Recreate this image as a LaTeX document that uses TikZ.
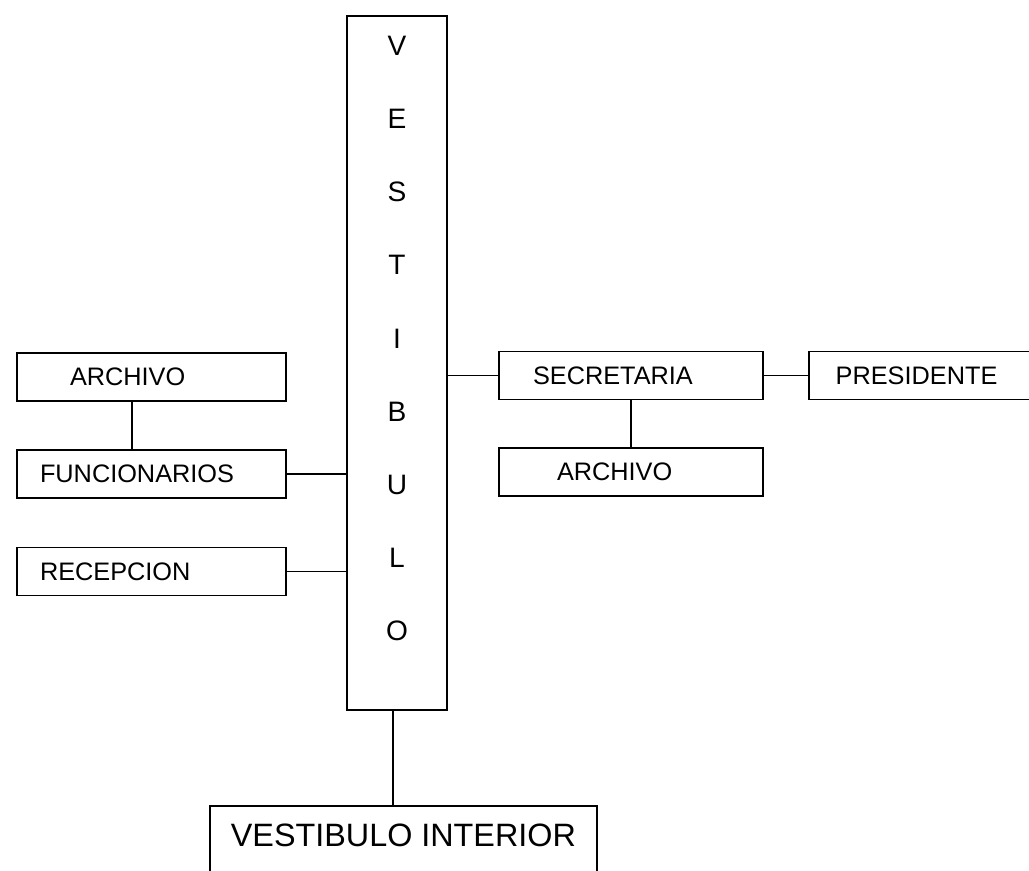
\documentclass[tikz,border=0pt]{standalone}
\usepackage{fontspec}
\setmainfont{Liberation Sans}
\usepackage{tikz}
\usetikzlibrary{positioning}

\begin{document}
\begin{tikzpicture}[
    room/.style={rectangle, draw, line width=1.2pt, font=\fontsize{18}{20}\selectfont, align=left, minimum height=1.2cm, inner ysep=0pt},
    hall/.style={rectangle, draw, line width=1.2pt, minimum width=2.5cm, minimum height=17.35cm},
    letters/.style={font=\fontsize{20}{52}\selectfont, align=center, inner sep=0pt},
    bigroom/.style={rectangle, draw, line width=1.2pt, font=\fontsize{23}{25}\selectfont, minimum width=9.675cm, inner sep=0pt, text height=1.0125cm, text depth=0.9cm},
    line/.style={draw, line width=1.2pt}
]
    \useasboundingbox (0,0) rectangle (25.725,-21.75);
    \node [hall] (vest) at (9.925,-9.075) {};
    \node [letters] (vestxt) at ([yshift=0.6125cm]vest) {V\\E\\S\\T\\I\\B\\U\\L\\O};
    \node [room, text width=4.075cm, inner xsep=1.325cm] (archL) at (3.7875,-9.425) {ARCHIVO};
    \node [room, text width=5.575cm, inner xsep=0.575cm, below=1.175cm of archL] (func) {FUNCIONARIOS};
    \node [room, text width=5.575cm, inner xsep=0.575cm, below=1.2cm of func] (recep) {RECEPCION};
    \node [room, text width=4.9cm, inner xsep=0.85cm] (secre) at (15.775,-9.3875) {SECRETARIA};
    \node [room, text width=3.7cm, inner xsep=1.45cm, below=1.175cm of secre] (archR) {ARCHIVO};
    \node [room, text width=5cm, inner xsep=0.675cm, right=1.1cm of secre] (pres) {PRESIDENTE};
    \node [bigroom, below=2.35cm of vest, xshift=0.16cm] (vint) {VESTIBULO INTERIOR};

    \path [line] ([xshift=-0.49cm]archL.south) -- ([xshift=-0.49cm]func.north);
    \path [line] (func.east) -- (func.east -| vest.west);
    \path [line] (recep.east) -- (recep.east -| vest.west);
    \path [line] (secre.west) -- (secre.west -| vest.east);
    \path [line] (secre.east) -- (pres.west);
    \path [line] (secre) -- (archR);
    \path [line] ([xshift=-0.1cm]vest.south) -- ([xshift=-0.1cm]vest.south |- vint.north);
\end{tikzpicture}
\end{document}
